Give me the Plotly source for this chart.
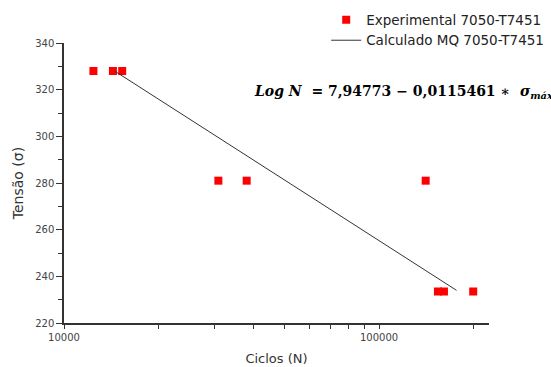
import plotly.graph_objects as go

# Experimental data (cycles N, stress sigma)
exp_N = [12400, 14300, 15300, 30900, 38000, 140600, 153800, 160700, 199000]
exp_sigma = [328, 328, 328, 281, 281, 281, 233.5, 233.5, 233.5]

# Least-squares fit: Log N = a - b * sigma
fit_a = 7.94773
fit_b = 0.0115461
fit_sigma = [328, 234]
fit_N = [10 ** (fit_a - fit_b * s) for s in fit_sigma]

fig = go.Figure()
fig.add_trace(go.Scatter(
    x=exp_N, y=exp_sigma, mode="markers",
    name="Experimental 7050-T7451",
    marker=dict(symbol="square", size=8, color="#ff0000", line=dict(width=0)),
))
fig.add_trace(go.Scatter(
    x=fit_N, y=fit_sigma, mode="lines",
    name="Calculado MQ 7050-T7451",
    line=dict(color="#333333", width=1),
))

tickfont = dict(family="DejaVu Sans", size=10, color="#444444")
fig.update_layout(
    width=551, height=367,
    margin=dict(l=64, r=62, t=43, b=44, autoexpand=False),
    plot_bgcolor="white", paper_bgcolor="white",
    showlegend=True,
    legend=dict(
        xref="container", yref="container",
        x=0.592, y=0.988, xanchor="left", yanchor="top",
        font=dict(family="DejaVu Sans", size=13.5, color="#222222"),
        bgcolor="rgba(0,0,0,0)", tracegroupgap=0, itemwidth=30,
    ),
    xaxis=dict(
        type="log", range=[4, 5.349], automargin=False,
        showgrid=False, zeroline=False,
        showline=True, linecolor="#333333", linewidth=1.5,
        ticks="outside", ticklen=4, tickcolor="#333333", tickwidth=1,
        tickvals=[10000, 100000], ticktext=["10000", "100000"],
        tickfont=tickfont,
        minor=dict(tickvals=[20000, 30000, 40000, 50000, 60000, 70000, 80000, 90000, 200000],
                   ticks="outside", ticklen=4, tickcolor="#333333", tickwidth=1),
        title=dict(text="Ciclos (N)", font=dict(family="DejaVu Sans", size=13, color="#333333"), standoff=12),
    ),
    yaxis=dict(
        range=[220, 340], automargin=False,
        showgrid=False, zeroline=False,
        showline=True, linecolor="#333333", linewidth=1.5,
        ticks="outside", ticklen=6, tickcolor="#333333", tickwidth=1,
        tickvals=[220, 240, 260, 280, 300, 320, 340],
        tickfont=tickfont,
        minor=dict(tickvals=[230, 250, 270, 290, 310, 330],
                   ticks="outside", ticklen=4, tickcolor="#333333", tickwidth=1),
        title=dict(text="Tensão (σ)", font=dict(family="DejaVu Sans", size=14, color="#333333"), standoff=8),
    ),
)

fig.add_annotation(
    xref="paper", yref="paper", x=(252 - 64) / 425, y=1 - (92 - 43) / 280,
    xanchor="left", yanchor="middle",
    showarrow=False,
    text="<b><i>Log N</i>  = 7,94773 − 0,0115461 ∗  <i>σ<sub>máx</sub></i></b>",
    font=dict(family="DejaVu Serif", size=14, color="#000000"),
)

fig.write_html("out.html")
